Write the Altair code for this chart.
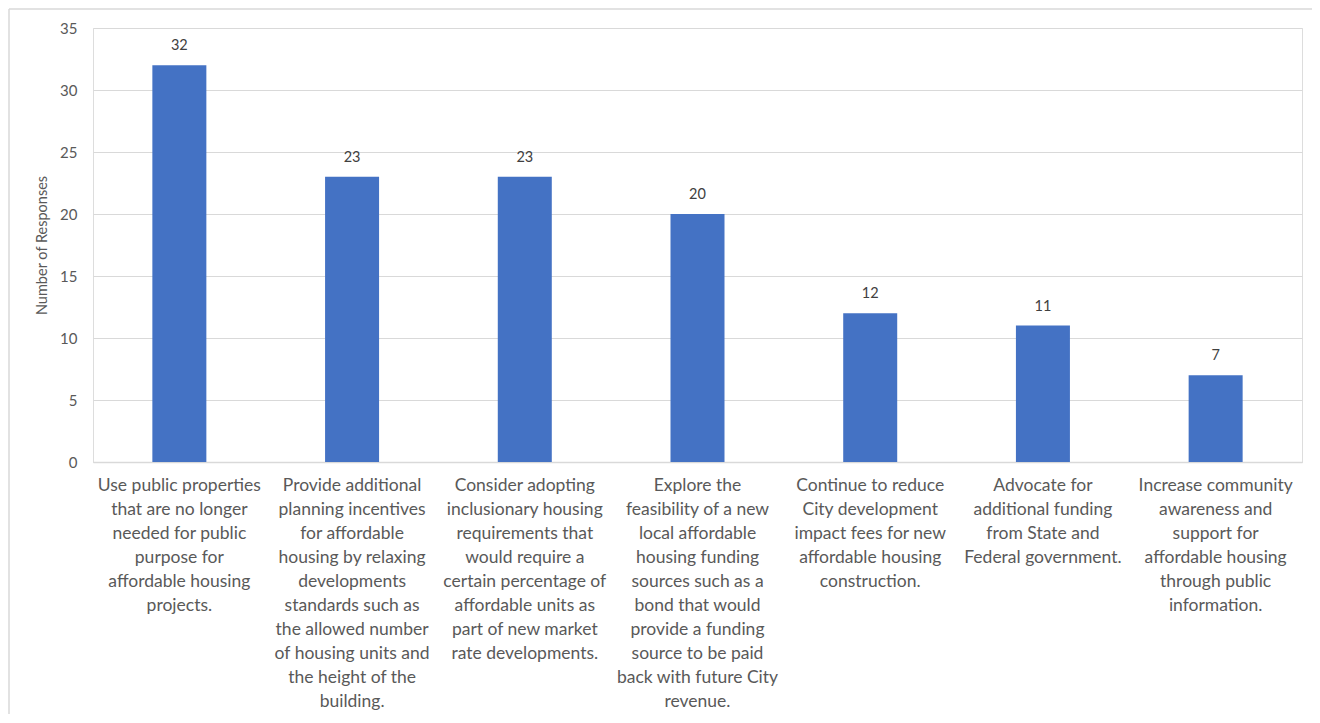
import altair as alt
import pandas as pd

categories = [
    "Use public properties\nthat are no longer\nneeded for public\npurpose for\naffordable housing\nprojects.",
    "Provide additional\nplanning incentives\nfor affordable\nhousing by relaxing\ndevelopments\nstandards such  as\nthe allowed number\nof housing units and\nthe height of the\nbuilding.",
    "Consider adopting\ninclusionary housing\nrequirements that\nwould require a\ncertain percentage of\naffordable units as\npart of new market\nrate developments.",
    "Explore the\nfeasibility of a new\nlocal affordable\nhousing funding\nsources such as a\nbond that would\nprovide a funding\nsource to be paid\nback with future City\nrevenue.",
    "Continue to reduce\nCity development\nimpact fees for new\naffordable housing\nconstruction.",
    "Advocate for\nadditional funding\nfrom State and\nFederal government.",
    "Increase community\nawareness and\nsupport for\naffordable housing\nthrough public\ninformation.",
]
responses = [32, 23, 23, 20, 12, 11, 7]

df = pd.DataFrame({"category": categories, "responses": responses})

FONT = "Lato"
W, H = 1209, 434
PAD_L, PAD_T, PAD_R, PAD_B = 85, 20, 10, 252

base = alt.Chart(df).encode(
    x=alt.X(
        "category:N",
        sort=None,
        title=None,
        scale=alt.Scale(paddingInner=0.69, paddingOuter=0.345),
        axis=alt.Axis(
            labelExpr="split(datum.label, '\\n')",
            labelAngle=0,
            labelFontSize=17.5,
            labelLineHeight=24,
            labelColor="#595959",
            labelFont=FONT,
            labelPadding=14,
            labelOverlap=False,
            labelLimit=0,
            labelBaseline="top",
            ticks=False,
            domain=True,
            domainColor="#d9d9d9",
            domainWidth=1.5,
            grid=False,
        ),
    ),
    y=alt.Y(
        "responses:Q",
        title="Number of Responses",
        scale=alt.Scale(domain=[0, 35]),
        axis=alt.Axis(
            values=[0, 5, 10, 15, 20, 25, 30, 35],
            labelFontSize=15,
            labelColor="#595959",
            labelFont=FONT,
            labelPadding=16,
            titleFont=FONT,
            titleFontSize=14.5,
            titleFontWeight="normal",
            titleColor="#595959",
            titlePadding=10,
            ticks=False,
            domain=False,
            gridColor="#d9d9d9",
            gridWidth=1.2,
        ),
    ),
)

bars = base.mark_bar(color="#4472C4", size=54)
labels = base.mark_text(dy=-19, fontSize=14.5, color="#404040", font=FONT).encode(
    text="responses:Q"
)

one = pd.DataFrame({"a": [0]})
top_line = alt.Chart(one).mark_rule(color="#d9d9d9", strokeWidth=1.5).encode(
    x=alt.value(-PAD_L + 1), x2=alt.value(W + PAD_R), y=alt.value(-PAD_T + 1)
)
left_line = alt.Chart(one).mark_rule(color="#d9d9d9", strokeWidth=1.5).encode(
    x=alt.value(-PAD_L + 1), y=alt.value(-PAD_T + 1), y2=alt.value(H + PAD_B)
)

chart = alt.layer(top_line, left_line, bars, labels).properties(
    width=W,
    height=H,
    autosize=alt.AutoSizeParams(type="none"),
    padding={"left": PAD_L, "top": PAD_T, "right": PAD_R, "bottom": PAD_B},
).configure_view(stroke=None).configure(background="white")

chart.save("out.html", embed_options={"renderer": "svg", "actions": False})
